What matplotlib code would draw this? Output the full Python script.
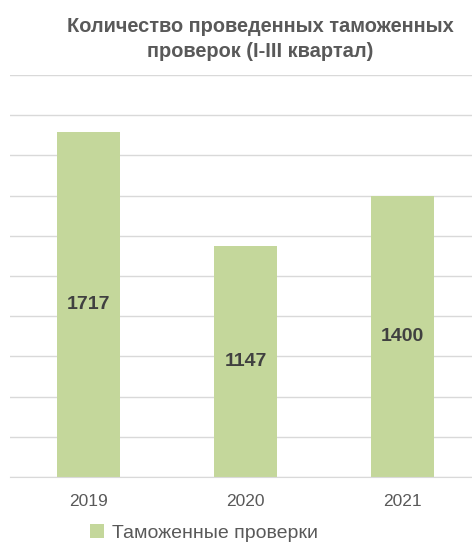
import matplotlib
matplotlib.use("Agg")
import matplotlib.pyplot as plt
from matplotlib.patches import Patch

categories = ["2019", "2020", "2021"]
values = [1717, 1147, 1400]
series_name = "Таможенные проверки"
title = "Количество проведенных таможенных\nпроверок (I-III квартал)"

plt.rcParams['font.family'] = ['Liberation Sans Narrow', 'Liberation Sans', 'DejaVu Sans']

W, H = 472, 546
fig = plt.figure(figsize=(W / 100, H / 100), dpi=100)
left, right, top, bottom = 10, 481, 75, 477
ax = fig.add_axes([left / W, (H - bottom) / H, (right - left) / W, (bottom - top) / H])

bar_color = "#C4D79B"
x = list(range(len(categories)))
bars = ax.bar(x, values, width=0.4, color=bar_color, zorder=2)
ax.set_xlim(-0.5, len(categories) - 0.5)
ax.set_ylim(0, 2000)
ax.set_yticks(range(0, 2001, 200))
ax.yaxis.grid(True, color="#D9D9D9", linewidth=1.0, zorder=0)
ax.set_axisbelow(True)
ax.tick_params(axis='y', left=False, labelleft=False)
ax.tick_params(axis='x', bottom=False, labelsize=12.5, labelcolor="#595959", pad=9)
ax.set_xticks(x)
ax.set_xticklabels(categories)
for s in ["top", "right", "left"]:
    ax.spines[s].set_visible(False)
ax.spines["bottom"].set_color("#D9D9D9")

for xi, v in zip(x, values):
    ax.text(xi, v / 2, str(v), ha="center", va="center", fontsize=14,
            fontweight="bold", color="#404040")

fig.text(260 / W, 1 - 39 / H, title, ha="center", va="center", fontsize=14.4,
         fontweight="bold", color="#595959", linespacing=1.45)

handle = Patch(facecolor=bar_color, edgecolor="none")
fig.legend([handle], [series_name], loc="center", bbox_to_anchor=(204 / W, 1 - 533 / H),
           frameon=False, fontsize=14, labelcolor="#595959", handlelength=0.7,
           handleheight=0.7, handletextpad=0.4)

fig.savefig("out.png", dpi=100)
